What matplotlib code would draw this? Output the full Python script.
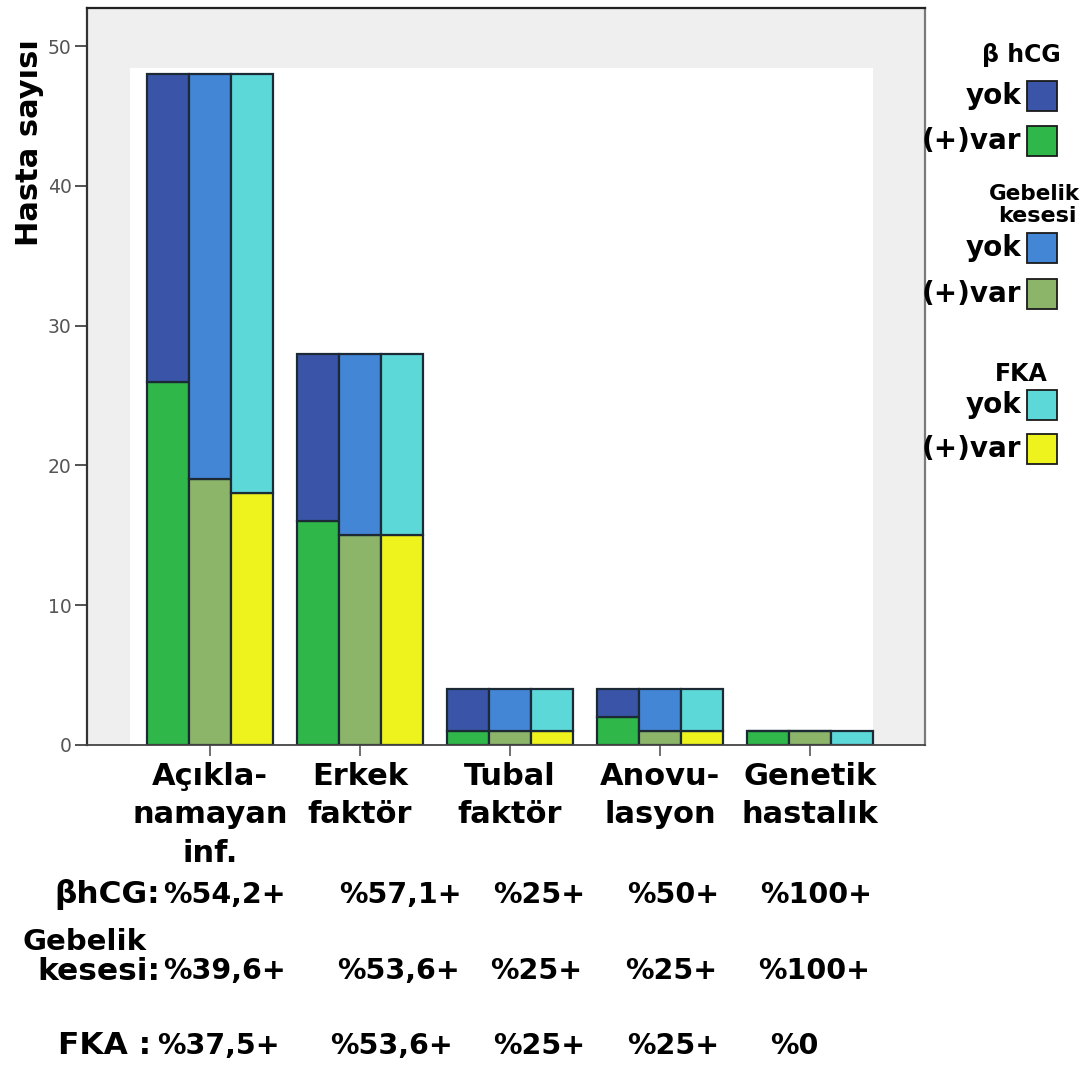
import matplotlib
matplotlib.use("Agg")
import matplotlib.pyplot as plt
from matplotlib.patches import Rectangle
import numpy as np

# ---------------- data ----------------
categories = ["Açıkla-\nnamayan\ninf.", "Erkek\nfaktör", "Tubal\nfaktör",
              "Anovu-\nlasyon", "Genetik\nhastalık"]
totals = [48, 28, 4, 4, 1]
bhcg_var = [26, 16, 1, 2, 1]
gebelik_var = [19, 15, 1, 1, 1]
fka_var = [18, 15, 1, 1, 0]
yticks = [0, 10, 20, 30, 40, 50]

row_labels = ["βhCG:", "kesesi:", "FKA :"]
bhcg_pct = ["%54,2+", "%57,1+", "%25+", "%50+", "%100+"]
gebelik_pct = ["%39,6+", "%53,6+", "%25+", "%25+", "%100+"]
fka_pct = ["%37,5+", "%53,6+", "%25+", "%25+", "%0"]

legend_titles = ["β hCG", "FKA"]
legend_items = ["yok", "(+)var"]

# ---------------- style ----------------
W, H = 1091, 1065
colors = {
    "bhcg": ("#3a55a8", "#2fb849"),
    "geb": ("#4386d6", "#8db56a"),
    "fka": ("#5cd8d8", "#eef31e"),
}
edge = "#1b2a35"
FONT = "DejaVu Sans"


def fx(px):
    return px / W


def fy(py):
    return 1 - py / H


fig = plt.figure(figsize=(W / 100, H / 100), dpi=100)
fig.patch.set_facecolor("white")
ax = fig.add_axes([fx(87), fy(745), fx(925) - fx(87), fy(8) - fy(745)])
ax.set_facecolor("#efefef")
ax.set_xlim(-0.82, 4.767)
ax.set_ylim(0, 52.72)

# white inner plot area
ax.add_patch(Rectangle((-0.533, 0), 4.953, 48.43, facecolor="white",
                       edgecolor="none", zorder=0.5))

x = np.arange(len(categories))
bw = 0.28
series = [("bhcg", bhcg_var), ("geb", gebelik_var), ("fka", fka_var)]
for i, (key, var) in enumerate(series):
    var = np.array(var)
    yok = np.array(totals) - var
    pos = x + (i - 1) * bw
    ax.bar(pos, var, bw, color=colors[key][1], edgecolor=edge, linewidth=1.6, zorder=2)
    ax.bar(pos, yok, bw, bottom=var, color=colors[key][0], edgecolor=edge,
           linewidth=1.6, zorder=2)

for side, c, lw in [("top", "#222222", 1.6), ("left", "#333333", 1.6),
                    ("right", "#7a7a7a", 1.6), ("bottom", "#444444", 1.3)]:
    ax.spines[side].set_color(c)
    ax.spines[side].set_linewidth(lw)

ax.set_yticks(yticks)
ax.set_yticklabels([str(v) for v in yticks])
ax.tick_params(axis="y", length=9, width=1.3, color="#444444", labelsize=13.5,
               labelcolor="#555555", pad=2)
ax.set_xticks(x)
ax.set_xticklabels(categories, fontsize=22, fontweight="bold", family=FONT,
                   linespacing=1.42)
ax.tick_params(axis="x", length=8, width=1.2, color="#555555", pad=4)

# y label
fig.text(fx(30), fy(143), "Hasta sayısı", rotation=90, ha="center", va="center",
         fontsize=22, fontweight="bold", family=FONT)

# ---------------- table below ----------------
label_right = [160, 160, 151]
row_y = [895, 971, 1046]
col_left = [[163, 339, 493, 627, 760],
            [163, 337, 490, 625, 758],
            [157, 330, 493, 627, 770]]
for r, (lab, vals) in enumerate(zip(row_labels, [bhcg_pct, gebelik_pct, fka_pct])):
    fig.text(fx(label_right[r]), fy(row_y[r]), lab, ha="right", va="center",
             fontsize=22.5, fontweight="bold", family=FONT)
    for c, v in enumerate(vals):
        fig.text(fx(col_left[r][c]), fy(row_y[r]), v, ha="left", va="center",
                 fontsize=20.5, fontweight="bold", family=FONT)
fig.text(fx(23), fy(942), "Gebelik", ha="left", va="center",
         fontsize=21, fontweight="bold", family=FONT)

# ---------------- legend ----------------
def legend_box(yc, color):
    fig.add_artist(Rectangle((fx(1027), fy(yc + 15)), fx(30), 30 / H,
                             facecolor=color, edgecolor="#1a1a1a", linewidth=1.3,
                             transform=fig.transFigure))


def legend_text(yc, s):
    fig.text(fx(1021), fy(yc), s, ha="right", va="center", fontsize=20,
             fontweight="bold", family=FONT)


fig.text(fx(1021), fy(55), legend_titles[0], ha="center", va="center",
         fontsize=17, fontweight="bold", family=FONT)
fig.text(fx(1080), fy(194), "Gebelik", ha="right", va="center",
         fontsize=15.5, fontweight="bold", family=FONT)
fig.text(fx(1077), fy(216), "kesesi", ha="right", va="center",
         fontsize=16, fontweight="bold", family=FONT)
fig.text(fx(1021), fy(374), legend_titles[1], ha="center", va="center",
         fontsize=17, fontweight="bold", family=FONT)

box_y = {"bhcg": (96, 141), "geb": (248, 294), "fka": (405, 449)}
for key in ["bhcg", "geb", "fka"]:
    for j in range(2):
        legend_box(box_y[key][j], colors[key][j])
        legend_text(box_y[key][j], legend_items[j])

fig.savefig("out.png", dpi=100, facecolor="white")
